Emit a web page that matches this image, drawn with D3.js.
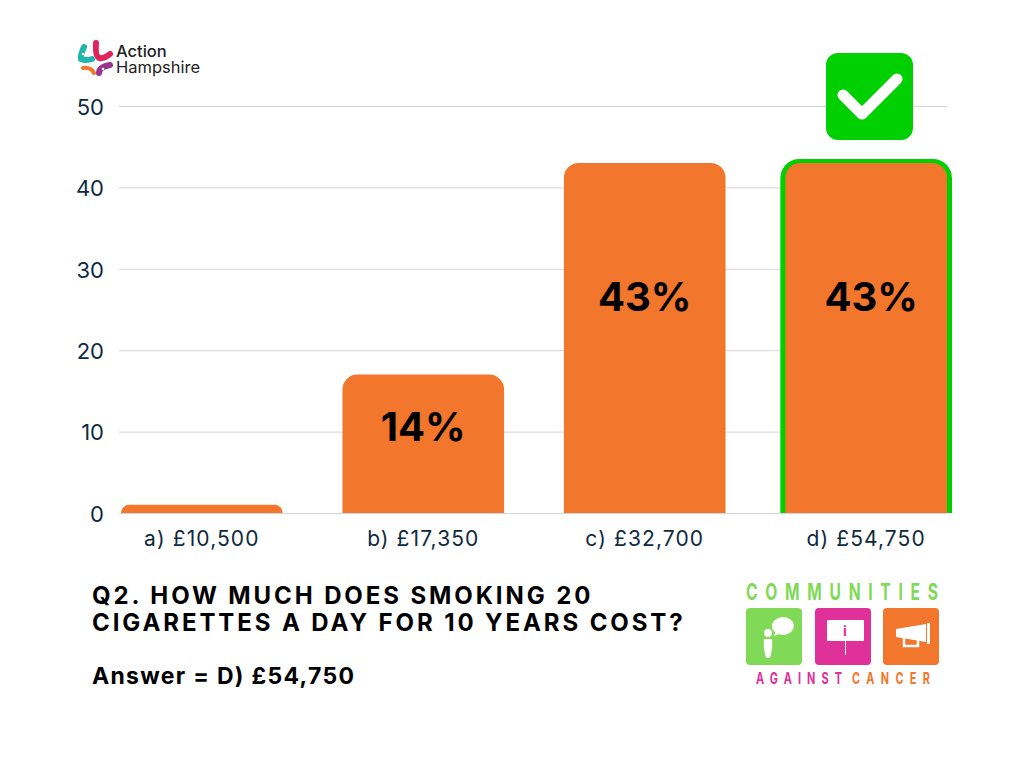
<!DOCTYPE html>
<html>
<head>
<meta charset="utf-8">
<script src="https://cdn.jsdelivr.net/npm/d3@7"></script>
<style>
  html, body { margin: 0; padding: 0; background: #fff; }
  svg { display: block; }
  text { font-family: Inter, "Open Sans", sans-serif; }
</style>
</head>
<body>
<div id="chart"></div>
<script>
var categories = ["a) £10,500", "b) £17,350", "c) £32,700", "d) £54,750"];
var values = [1, 17, 43, 43];
var barLabels = ["", "14%", "43%", "43%"];
var yTicks = [0, 10, 20, 30, 40, 50];
var correctAnswer = "d) £54,750";
var questionLines = ["Q2. HOW MUCH DOES SMOKING 20", "CIGARETTES A DAY FOR 10 YEARS COST?"];
var answerLine = "Answer = D) £54,750";

var orange = "#f2762b", green = "#00cf00", inkBlue = "#0e2a3f", grid = "#d2d5da";

var svg = d3.select("#chart").append("svg").attr("width", 1024).attr("height", 768);

var x = d3.scaleBand().domain(categories).range([121, 947]).paddingInner(0.27).paddingOuter(0);
var y = d3.scaleLinear().domain([0, 50]).range([513, 106]);

// top-rounded shape, flat at the baseline. grow widens it for the green outline
function barPath(d, i, grow) {
  grow = grow || 0;
  var x0 = x(categories[i]) - grow, w = x.bandwidth() + grow * 2, t = y(d) - grow * 0.8, b = y(0);
  var r = Math.min(15 + grow * 0.8, b - t);
  return "M" + x0 + "," + b + "V" + (t + r) + "A" + r + "," + r + " 0 0 1 " + (x0 + r) + "," + t +
    "H" + (x0 + w - r) + "A" + r + "," + r + " 0 0 1 " + (x0 + w) + "," + (t + r) + "V" + b + "Z";
}

// gridlines + y labels
var yAxis = d3.axisLeft(y).tickValues(yTicks).tickSize(-828).tickPadding(15);
var gy = svg.append("g").attr("transform", "translate(119,0)").call(yAxis);
gy.select(".domain").remove();
gy.selectAll(".tick line").attr("stroke", grid).attr("stroke-width", 1);
gy.selectAll(".tick text").attr("fill", inkBlue).attr("dy", "0.38em")
  .style("font-size", "22px").style("font-family", "Inter, sans-serif");

var bars = svg.append("g");
// green outline sits behind the right answer's bar, open at the bottom
bars.selectAll("path.outline").data(values).enter()
  .filter(function(d, i) { return categories[i] === correctAnswer; })
  .append("path").attr("class", "outline")
  .attr("d", function(d) { return barPath(d, categories.indexOf(correctAnswer), 5); })
  .attr("fill", green);
bars.selectAll("path.bar").data(values).enter().append("path").attr("class", "bar")
  .attr("d", function(d, i) { return barPath(d, i); })
  .attr("fill", orange);

svg.append("g").selectAll("text").data(barLabels).enter().append("text")
  .attr("x", function(d, i) {
    // the label on the answer bar is a little right of centre in the original
    return x(categories[i]) + x.bandwidth() / 2 + (categories[i] === correctAnswer ? 5 : 0);
  })
  .attr("y", function(d, i) { return i === 1 ? 441 : 311; })
  .attr("text-anchor", "middle")
  .attr("fill", "#000")
  .style("font-size", "40px")
  .style("font-weight", 700)
  .text(function(d) { return d; });

// x labels
var xAxis = d3.axisBottom(x).tickSize(0).tickPadding(18);
var gx = svg.append("g").attr("transform", "translate(0,513)").call(xAxis);
gx.select(".domain").remove();
gx.selectAll(".tick text").attr("fill", inkBlue)
  .style("font-size", "21px").style("letter-spacing", "1.1px").style("font-family", "Inter, sans-serif");

// question text
svg.append("g").selectAll("text").data(questionLines).enter().append("text")
  .attr("x", 92)
  .attr("y", function(d, i) { return 604 + i * 27; })
  .attr("fill", "#000")
  .style("font-size", "24px")
  .style("font-weight", 700)
  .style("letter-spacing", "2.9px")
  .text(function(d) { return d; });
svg.append("text").attr("x", 92).attr("y", 684)
  .attr("fill", "#000")
  .style("font-size", "23px")
  .style("font-weight", 700)
  .style("letter-spacing", "1.3px")
  .text(answerLine);

// tick badge above the right answer
var badge = svg.append("g");
badge.append("rect").attr("x", 826).attr("y", 53).attr("width", 87).attr("height", 87).attr("rx", 12).attr("fill", green);
badge.append("path").attr("d", "M843,95L862,114L897,79")
  .attr("fill", "none").attr("stroke", "#fff").attr("stroke-width", 11)
  .attr("stroke-linecap", "round").attr("stroke-linejoin", "round");

// Action Hampshire logo
var logo = svg.append("g").attr("fill", "none").attr("stroke-linecap", "round");
logo.append("path").attr("d", "M84,47Q80,56 81,59Q86,61 92,59").attr("stroke", "#1fb5ac").attr("stroke-width", 6);
logo.append("path").attr("d", "M96,43Q95,56 99,58Q104,59 110,54").attr("stroke", "#e0245e").attr("stroke-width", 6);
logo.append("path").attr("d", "M83,68Q91,67 94,73").attr("stroke", "#f2762b").attr("stroke-width", 4);
logo.append("path").attr("d", "M99,73Q99,67 110,65").attr("stroke", "#96348f").attr("stroke-width", 6);
logo.append("circle").attr("cx", 83).attr("cy", 54).attr("r", 1.3).attr("fill", "#fff");
logo.append("circle").attr("cx", 103).attr("cy", 69).attr("r", 1.3).attr("fill", "#fff");
var word = logo.append("text").attr("fill", "#222").style("font-size", "16.5px");
word.append("tspan").attr("x", 116).attr("y", 57).style("font-weight", 500).text("Action");
word.append("tspan").attr("x", 116).attr("y", 72.5).style("font-weight", 400).text("Hampshire");

// Communities Against Cancer logo
// squeezed letters with wide gaps, the logo face is a condensed one
var squeeze = 0.68;
function logoText(txt, px, py, len, size, fill) {
  cac.append("text")
    .attr("transform", "translate(" + px + "," + py + ") scale(" + squeeze + ",1)")
    .attr("fill", fill)
    .attr("textLength", len / squeeze).attr("lengthAdjust", "spacing")
    .style("font-size", size + "px").style("font-weight", 700)
    .text(txt);
}
var cac = svg.append("g");
logoText("COMMUNITIES", 746, 600, 192, 23, "#80d957");
cac.append("rect").attr("x", 746).attr("y", 608).attr("width", 56).attr("height", 57).attr("rx", 4).attr("fill", "#80d957");
cac.append("rect").attr("x", 815).attr("y", 608).attr("width", 56).attr("height", 57).attr("rx", 4).attr("fill", "#e0309a");
cac.append("rect").attr("x", 883).attr("y", 608).attr("width", 56).attr("height", 57).attr("rx", 4).attr("fill", "#f2762b");
// person with speech bubble
cac.append("circle").attr("cx", 768).attr("cy", 633).attr("r", 4).attr("fill", "#fff");
cac.append("path").attr("d", "M764,639H772Q773,648 770,658H766Q763,648 764,639Z").attr("fill", "#fff");
cac.append("ellipse").attr("cx", 783).attr("cy", 626).attr("rx", 11).attr("ry", 9).attr("fill", "#fff");
cac.append("path").attr("d", "M776,631L774,636L782,633Z").attr("fill", "#fff");
// sign
cac.append("rect").attr("x", 827).attr("y", 620).attr("width", 37).attr("height", 21).attr("rx", 1).attr("fill", "#fff");
cac.append("rect").attr("x", 845).attr("y", 641).attr("width", 1).attr("height", 14).attr("fill", "#fff");
cac.append("text").attr("x", 845).attr("y", 636).attr("text-anchor", "middle").attr("fill", "#e0309a")
  .style("font-size", "14px").style("font-weight", 700).text("i");
// megaphone
cac.append("path").attr("d", "M896,629L926,624V642L896,637Z").attr("fill", "#fff");
cac.append("rect").attr("x", 927).attr("y", 623).attr("width", 3).attr("height", 21).attr("fill", "#fff");
cac.append("path").attr("d", "M904,638V646H918V640").attr("fill", "none").attr("stroke", "#fff").attr("stroke-width", 2.5);
logoText("AGAINST", 756, 684, 86, 16, "#e0309a");
logoText("CANCER", 852, 684, 78, 16, "#f2762b");
</script>
</body>
</html>
